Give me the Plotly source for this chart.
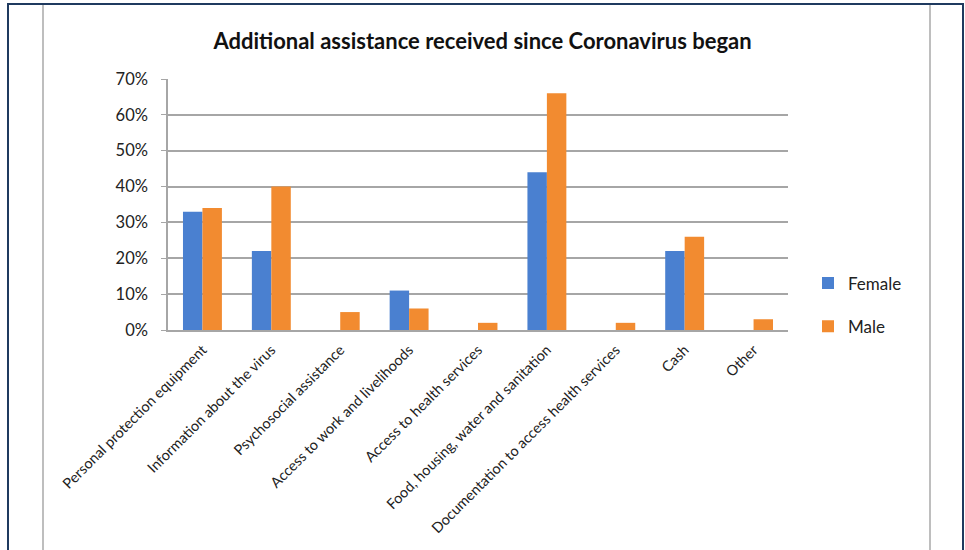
import plotly.graph_objects as go

categories = [
    "Personal protection equipment",
    "Information about the virus",
    "Psychosocial assistance",
    "Access to work and livelihoods",
    "Access to health services",
    "Food, housing, water and sanitation",
    "Documentation to access health services",
    "Cash",
    "Other",
]
female = [0.33, 0.22, 0.0, 0.11, 0.0, 0.44, 0.0, 0.22, 0.0]
male = [0.34, 0.40, 0.05, 0.06, 0.02, 0.66, 0.02, 0.26, 0.03]
y_ticks = [0, 0.1, 0.2, 0.3, 0.4, 0.5, 0.6, 0.7]
y_tick_labels = ["0%", "10%", "20%", "30%", "40%", "50%", "60%", "70%"]

FONT = "Lato"

fig = go.Figure()
fig.add_trace(go.Bar(
    name="Female", x=categories, y=female, legendgroup="f",
    marker=dict(color="#4a80d0", line=dict(width=0)),
))
fig.add_trace(go.Bar(
    name="Male", x=categories, y=male, legendgroup="m",
    marker=dict(color="#f28b30", line=dict(width=0)),
))

# plot area spans x 168..788 px, y 79..330 px
L, R, T, B = 168, 177, 79, 220
W, H = 965 - L - R, 550 - T - B


def px(x):
    return (x - L) / W


def py(y):
    return (550 - B - y) / H


shapes = [
    # outer dark frame
    dict(type="line", xref="paper", yref="paper", x0=px(8), x1=px(8), y0=py(4), y1=py(560),
         line=dict(color="#1f3a5f", width=2)),
    dict(type="line", xref="paper", yref="paper", x0=px(963), x1=px(963), y0=py(4), y1=py(560),
         line=dict(color="#1f3a5f", width=2)),
    dict(type="line", xref="paper", yref="paper", x0=px(7), x1=px(964), y0=py(4), y1=py(4),
         line=dict(color="#1f3a5f", width=2)),
    # inner grey page edges
    dict(type="line", xref="paper", yref="paper", x0=px(43), x1=px(43), y0=py(5), y1=py(560),
         line=dict(color="#a8a8a8", width=1.5)),
    dict(type="line", xref="paper", yref="paper", x0=px(930), x1=px(930), y0=py(5), y1=py(560),
         line=dict(color="#a8a8a8", width=1.5)),
]

fig.update_layout(
    width=965, height=550,
    margin=dict(l=L, r=R, t=T, b=B),
    paper_bgcolor="white", plot_bgcolor="white",
    barmode="group", bargap=0.435, bargroupgap=0,
    font=dict(family=FONT, color="#222222"),
    title=dict(text="<b>Additional assistance received since Coronavirus began</b>",
               x=px(478), xanchor="center", y=1 - 41 / 550, yanchor="middle",
               font=dict(family=FONT, size=22, color="#111111")),
    showlegend=True,
    legend=dict(x=px(808), y=py(305), xanchor="left", yanchor="middle",
                font=dict(family=FONT, size=17, color="#222222"),
                tracegroupgap=18, bgcolor="rgba(0,0,0,0)"),
    xaxis=dict(tickangle=-45, tickfont=dict(family=FONT, size=14.5, color="#222222"),
               showline=True, linecolor="#a6a6a6", linewidth=1.5, showgrid=False,
               ticks="", ticklabelstandoff=4),
    yaxis=dict(range=[0, 0.7], tickvals=y_ticks, ticktext=y_tick_labels,
               tickfont=dict(family=FONT, size=16.5, color="#222222"),
               showgrid=True, gridcolor="#a6a6a6", gridwidth=1.5,
               showline=True, linecolor="#a6a6a6", linewidth=1.5,
               ticks="outside", ticklen=5, tickcolor="#a6a6a6", ticklabelstandoff=10,
               zeroline=False),
    shapes=shapes,
)

fig.write_html("out.html")
